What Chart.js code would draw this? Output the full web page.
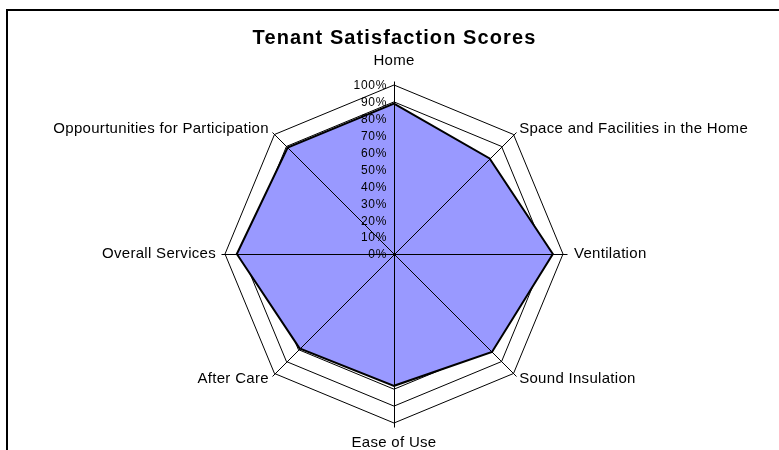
<!DOCTYPE html>
<html>
<head>
<meta charset="utf-8">
<script src="https://cdn.jsdelivr.net/npm/chart.js@4.4.1/dist/chart.umd.min.js"></script>
<style>
  html, body { margin: 0; padding: 0; background: #fff; overflow: hidden; }
  #wrap { position: relative; width: 779px; height: 450px; }
  #frame {
    position: absolute; left: 6px; top: 9px; width: 820px; height: 500px;
    border: 2px solid #000; pointer-events: none;
  }
</style>
</head>
<body>
<div id="wrap">
  <canvas id="mainChart" width="779" height="450"></canvas>
  <div id="frame"></div>
</div>
<script>
const categories = [
  'Home',
  'Space and Facilities in the Home',
  'Ventilation',
  'Sound Insulation',
  'Ease of Use',
  'After Care',
  'Overall Services',
  'Oppourtunities for Participation'
];
const scores = [89, 80, 94, 82, 78, 79, 93, 89];
const tickValues = [0, 10, 20, 30, 40, 50, 60, 70, 80, 90, 100];
const tickLabels = ['0%', '10%', '20%', '30%', '40%', '50%', '60%', '70%', '80%', '90%', '100%'];

const FONT = "'Liberation Sans', Arial, sans-serif";

// spokes, % ticks and category labels are drawn on top of the fill, like the old Excel chart
const overlayPlugin = {
  id: 'overlay',
  beforeDraw(chart) {
    chart.ctx.letterSpacing = '1.1px'; // wide Excel-ish title
  },
  afterDatasetsDraw(chart) {
    const ctx = chart.ctx;
    const scale = chart.scales.r;
    const r = scale.drawingArea;
    ctx.save();

    // spokes, a little past the outer ring
    ctx.strokeStyle = '#000';
    ctx.lineWidth = 1;
    categories.forEach((c, i) => {
      const p = scale.getPointPosition(i, r + 4);
      ctx.beginPath();
      ctx.moveTo(scale.xCenter + 0.5, scale.yCenter + 0.5);
      ctx.lineTo(Math.round(p.x) + 0.5, Math.round(p.y) + 0.5);
      ctx.stroke();
    });

    // % ticks left of the vertical spoke
    ctx.letterSpacing = '0.7px';
    ctx.fillStyle = '#000';
    ctx.font = '12px ' + FONT;
    ctx.textAlign = 'right';
    ctx.textBaseline = 'middle';
    tickValues.forEach((v, i) => {
      const y = scale.yCenter - scale.getDistanceFromCenterForValue(v);
      ctx.fillText(tickLabels[i], scale.xCenter - 7, y + 1);
    });

    // category labels
    ctx.letterSpacing = '0.3px';
    ctx.font = '15px ' + FONT;
    const pads = [24, 8, 11, 8, 20, 8, 9, 8];
    categories.forEach((c, i) => {
      const p = scale.getPointPosition(i, r + pads[i]);
      const dx = p.x - scale.xCenter;
      ctx.textAlign = Math.abs(dx) < 1 ? 'center' : (dx > 0 ? 'left' : 'right');
      ctx.textBaseline = 'middle';
      ctx.fillText(c, p.x, p.y);
    });
    ctx.restore();
  }
};

const chart = new Chart(document.getElementById('mainChart').getContext('2d'), {
  type: 'radar',
  data: {
    labels: categories,
    datasets: [{
      label: 'Score',
      data: scores,
      backgroundColor: '#9999FF',
      borderColor: '#000',
      borderWidth: 2,
      fill: true,
      pointRadius: 0,
      tension: 0
    }]
  },
  options: {
    responsive: false,
    animation: false,
    layout: { padding: { top: 26, left: 10, right: 0, bottom: 27 } },
    plugins: {
      legend: { display: false },
      tooltip: { enabled: false },
      title: {
        display: true,
        text: 'Tenant Satisfaction Scores',
        color: '#000',
        font: { family: FONT, size: 20, weight: 'bold' },
        padding: { top: 0, bottom: 35 }
      }
    },
    scales: {
      r: {
        min: 0,
        max: 100,
        ticks: { display: false, stepSize: 10 },
        grid: { circular: false, color: '#000', lineWidth: 1 },
        angleLines: { display: false },
        pointLabels: { display: false }
      }
    }
  },
  plugins: [overlayPlugin]
});
</script>
</body>
</html>
